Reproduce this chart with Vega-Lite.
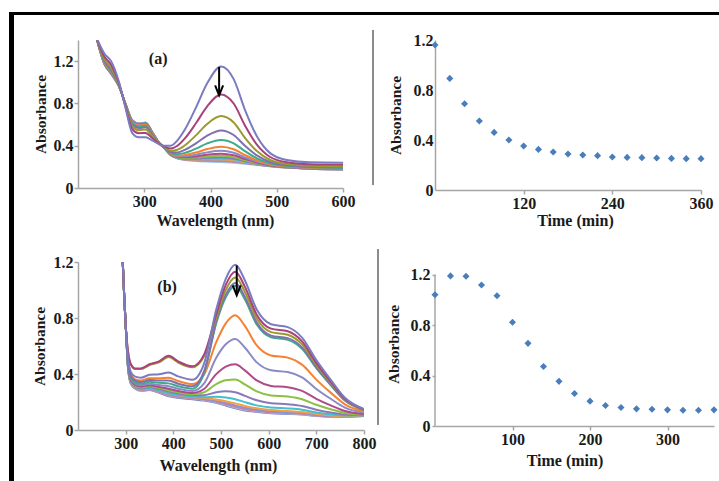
{
"$schema": "https://vega.github.io/schema/vega-lite/v6.json",
"background": "white",
"padding": {"left": 8, "top": 10, "right": 0, "bottom": 0},
"data": {"values": [{"z": 0}]},
"datasets": {
"specA": [
{"k":15,"w":228,"a":1.42},{"k":15,"w":240,"a":1.17},{"k":15,"w":250,"a":1.08},{"k":15,"w":262,"a":0.96},{"k":15,"w":272,"a":0.79},{"k":15,"w":282,"a":0.64},{"k":15,"w":292,"a":0.61},{"k":15,"w":302,"a":0.62},{"k":15,"w":312,"a":0.53},{"k":15,"w":322,"a":0.43},{"k":15,"w":330,"a":0.38},{"k":15,"w":340,"a":0.31},{"k":15,"w":350,"a":0.28},{"k":15,"w":362,"a":0.265},{"k":15,"w":378,"a":0.255},{"k":15,"w":395,"a":0.25},{"k":15,"w":416,"a":0.245},{"k":15,"w":435,"a":0.24},{"k":15,"w":452,"a":0.23},{"k":15,"w":470,"a":0.218},{"k":15,"w":490,"a":0.205},{"k":15,"w":515,"a":0.193},{"k":15,"w":550,"a":0.182},{"k":15,"w":600,"a":0.175},
{"k":14,"w":228,"a":1.42},{"k":14,"w":240,"a":1.171},{"k":14,"w":250,"a":1.081},{"k":14,"w":262,"a":0.96},{"k":14,"w":272,"a":0.79},{"k":14,"w":282,"a":0.639},{"k":14,"w":292,"a":0.609},{"k":14,"w":302,"a":0.618},{"k":14,"w":312,"a":0.529},{"k":14,"w":322,"a":0.43},{"k":14,"w":330,"a":0.38},{"k":14,"w":340,"a":0.311},{"k":14,"w":350,"a":0.282},{"k":14,"w":362,"a":0.268},{"k":14,"w":378,"a":0.261},{"k":14,"w":395,"a":0.258},{"k":14,"w":416,"a":0.255},{"k":14,"w":435,"a":0.249},{"k":14,"w":452,"a":0.236},{"k":14,"w":470,"a":0.221},{"k":14,"w":490,"a":0.206},{"k":14,"w":515,"a":0.194},{"k":14,"w":550,"a":0.183},{"k":14,"w":600,"a":0.176},
{"k":13,"w":228,"a":1.42},{"k":13,"w":240,"a":1.172},{"k":13,"w":250,"a":1.082},{"k":13,"w":262,"a":0.961},{"k":13,"w":272,"a":0.789},{"k":13,"w":282,"a":0.638},{"k":13,"w":292,"a":0.608},{"k":13,"w":302,"a":0.618},{"k":13,"w":312,"a":0.529},{"k":13,"w":322,"a":0.43},{"k":13,"w":330,"a":0.38},{"k":13,"w":340,"a":0.312},{"k":13,"w":350,"a":0.283},{"k":13,"w":362,"a":0.27},{"k":13,"w":378,"a":0.264},{"k":13,"w":395,"a":0.263},{"k":13,"w":416,"a":0.26},{"k":13,"w":435,"a":0.253},{"k":13,"w":452,"a":0.239},{"k":13,"w":470,"a":0.223},{"k":13,"w":490,"a":0.207},{"k":13,"w":515,"a":0.194},{"k":13,"w":550,"a":0.183},{"k":13,"w":600,"a":0.176},
{"k":12,"w":228,"a":1.42},{"k":12,"w":240,"a":1.173},{"k":12,"w":250,"a":1.083},{"k":12,"w":262,"a":0.961},{"k":12,"w":272,"a":0.789},{"k":12,"w":282,"a":0.637},{"k":12,"w":292,"a":0.606},{"k":12,"w":302,"a":0.616},{"k":12,"w":312,"a":0.528},{"k":12,"w":322,"a":0.43},{"k":12,"w":330,"a":0.381},{"k":12,"w":340,"a":0.313},{"k":12,"w":350,"a":0.285},{"k":12,"w":362,"a":0.273},{"k":12,"w":378,"a":0.269},{"k":12,"w":395,"a":0.271},{"k":12,"w":416,"a":0.27},{"k":12,"w":435,"a":0.262},{"k":12,"w":452,"a":0.244},{"k":12,"w":470,"a":0.226},{"k":12,"w":490,"a":0.209},{"k":12,"w":515,"a":0.195},{"k":12,"w":550,"a":0.184},{"k":12,"w":600,"a":0.177},
{"k":11,"w":228,"a":1.42},{"k":11,"w":240,"a":1.174},{"k":11,"w":250,"a":1.085},{"k":11,"w":262,"a":0.962},{"k":11,"w":272,"a":0.788},{"k":11,"w":282,"a":0.635},{"k":11,"w":292,"a":0.605},{"k":11,"w":302,"a":0.615},{"k":11,"w":312,"a":0.527},{"k":11,"w":322,"a":0.429},{"k":11,"w":330,"a":0.381},{"k":11,"w":340,"a":0.314},{"k":11,"w":350,"a":0.287},{"k":11,"w":362,"a":0.277},{"k":11,"w":378,"a":0.275},{"k":11,"w":395,"a":0.279},{"k":11,"w":416,"a":0.28},{"k":11,"w":435,"a":0.271},{"k":11,"w":452,"a":0.25},{"k":11,"w":470,"a":0.229},{"k":11,"w":490,"a":0.21},{"k":11,"w":515,"a":0.196},{"k":11,"w":550,"a":0.184},{"k":11,"w":600,"a":0.178},
{"k":10,"w":228,"a":1.42},{"k":10,"w":240,"a":1.175},{"k":10,"w":250,"a":1.086},{"k":10,"w":262,"a":0.962},{"k":10,"w":272,"a":0.788},{"k":10,"w":282,"a":0.634},{"k":10,"w":292,"a":0.604},{"k":10,"w":302,"a":0.613},{"k":10,"w":312,"a":0.526},{"k":10,"w":322,"a":0.429},{"k":10,"w":330,"a":0.381},{"k":10,"w":340,"a":0.315},{"k":10,"w":350,"a":0.289},{"k":10,"w":362,"a":0.28},{"k":10,"w":378,"a":0.28},{"k":10,"w":395,"a":0.287},{"k":10,"w":416,"a":0.29},{"k":10,"w":435,"a":0.28},{"k":10,"w":452,"a":0.256},{"k":10,"w":470,"a":0.232},{"k":10,"w":490,"a":0.211},{"k":10,"w":515,"a":0.197},{"k":10,"w":550,"a":0.185},{"k":10,"w":600,"a":0.178},
{"k":9,"w":228,"a":1.42},{"k":9,"w":240,"a":1.177},{"k":9,"w":250,"a":1.088},{"k":9,"w":262,"a":0.963},{"k":9,"w":272,"a":0.787},{"k":9,"w":282,"a":0.632},{"k":9,"w":292,"a":0.601},{"k":9,"w":302,"a":0.611},{"k":9,"w":312,"a":0.525},{"k":9,"w":322,"a":0.429},{"k":9,"w":330,"a":0.381},{"k":9,"w":340,"a":0.316},{"k":9,"w":350,"a":0.291},{"k":9,"w":362,"a":0.284},{"k":9,"w":378,"a":0.288},{"k":9,"w":395,"a":0.299},{"k":9,"w":416,"a":0.305},{"k":9,"w":435,"a":0.292},{"k":9,"w":452,"a":0.264},{"k":9,"w":470,"a":0.236},{"k":9,"w":490,"a":0.213},{"k":9,"w":515,"a":0.198},{"k":9,"w":550,"a":0.186},{"k":9,"w":600,"a":0.179},
{"k":8,"w":228,"a":1.42},{"k":8,"w":240,"a":1.179},{"k":8,"w":250,"a":1.091},{"k":8,"w":262,"a":0.964},{"k":8,"w":272,"a":0.786},{"k":8,"w":282,"a":0.629},{"k":8,"w":292,"a":0.599},{"k":8,"w":302,"a":0.608},{"k":8,"w":312,"a":0.523},{"k":8,"w":322,"a":0.429},{"k":8,"w":330,"a":0.382},{"k":8,"w":340,"a":0.318},{"k":8,"w":350,"a":0.295},{"k":8,"w":362,"a":0.291},{"k":8,"w":378,"a":0.299},{"k":8,"w":395,"a":0.315},{"k":8,"w":416,"a":0.325},{"k":8,"w":435,"a":0.31},{"k":8,"w":452,"a":0.275},{"k":8,"w":470,"a":0.242},{"k":8,"w":490,"a":0.216},{"k":8,"w":515,"a":0.199},{"k":8,"w":550,"a":0.187},{"k":8,"w":600,"a":0.181},
{"k":7,"w":228,"a":1.42},{"k":7,"w":240,"a":1.182},{"k":7,"w":250,"a":1.094},{"k":7,"w":262,"a":0.965},{"k":7,"w":272,"a":0.785},{"k":7,"w":282,"a":0.626},{"k":7,"w":292,"a":0.595},{"k":7,"w":302,"a":0.603},{"k":7,"w":312,"a":0.521},{"k":7,"w":322,"a":0.428},{"k":7,"w":330,"a":0.382},{"k":7,"w":340,"a":0.321},{"k":7,"w":350,"a":0.3},{"k":7,"w":362,"a":0.3},{"k":7,"w":378,"a":0.315},{"k":7,"w":395,"a":0.337},{"k":7,"w":416,"a":0.352},{"k":7,"w":435,"a":0.333},{"k":7,"w":452,"a":0.29},{"k":7,"w":470,"a":0.25},{"k":7,"w":490,"a":0.22},{"k":7,"w":515,"a":0.201},{"k":7,"w":550,"a":0.189},{"k":7,"w":600,"a":0.183},
{"k":6,"w":228,"a":1.42},{"k":6,"w":240,"a":1.186},{"k":6,"w":250,"a":1.099},{"k":6,"w":262,"a":0.966},{"k":6,"w":272,"a":0.784},{"k":6,"w":282,"a":0.621},{"k":6,"w":292,"a":0.589},{"k":6,"w":302,"a":0.598},{"k":6,"w":312,"a":0.517},{"k":6,"w":322,"a":0.428},{"k":6,"w":330,"a":0.383},{"k":6,"w":340,"a":0.324},{"k":6,"w":350,"a":0.307},{"k":6,"w":362,"a":0.312},{"k":6,"w":378,"a":0.336},{"k":6,"w":395,"a":0.368},{"k":6,"w":416,"a":0.39},{"k":6,"w":435,"a":0.366},{"k":6,"w":452,"a":0.312},{"k":6,"w":470,"a":0.262},{"k":6,"w":490,"a":0.225},{"k":6,"w":515,"a":0.205},{"k":6,"w":550,"a":0.192},{"k":6,"w":600,"a":0.185},
{"k":5,"w":228,"a":1.42},{"k":5,"w":240,"a":1.193},{"k":5,"w":250,"a":1.108},{"k":5,"w":262,"a":0.969},{"k":5,"w":272,"a":0.781},{"k":5,"w":282,"a":0.612},{"k":5,"w":292,"a":0.58},{"k":5,"w":302,"a":0.588},{"k":5,"w":312,"a":0.511},{"k":5,"w":322,"a":0.427},{"k":5,"w":330,"a":0.385},{"k":5,"w":340,"a":0.331},{"k":5,"w":350,"a":0.319},{"k":5,"w":362,"a":0.333},{"k":5,"w":378,"a":0.372},{"k":5,"w":395,"a":0.422},{"k":5,"w":416,"a":0.455},{"k":5,"w":435,"a":0.423},{"k":5,"w":452,"a":0.348},{"k":5,"w":470,"a":0.281},{"k":5,"w":490,"a":0.234},{"k":5,"w":515,"a":0.21},{"k":5,"w":550,"a":0.196},{"k":5,"w":600,"a":0.19},
{"k":4,"w":228,"a":1.42},{"k":4,"w":240,"a":1.203},{"k":4,"w":250,"a":1.12},{"k":4,"w":262,"a":0.973},{"k":4,"w":272,"a":0.777},{"k":4,"w":282,"a":0.6},{"k":4,"w":292,"a":0.567},{"k":4,"w":302,"a":0.574},{"k":4,"w":312,"a":0.504},{"k":4,"w":322,"a":0.425},{"k":4,"w":330,"a":0.387},{"k":4,"w":340,"a":0.34},{"k":4,"w":350,"a":0.336},{"k":4,"w":362,"a":0.363},{"k":4,"w":378,"a":0.422},{"k":4,"w":395,"a":0.495},{"k":4,"w":416,"a":0.545},{"k":4,"w":435,"a":0.501},{"k":4,"w":452,"a":0.399},{"k":4,"w":470,"a":0.308},{"k":4,"w":490,"a":0.246},{"k":4,"w":515,"a":0.217},{"k":4,"w":550,"a":0.202},{"k":4,"w":600,"a":0.197},
{"k":3,"w":228,"a":1.42},{"k":3,"w":240,"a":1.218},{"k":3,"w":250,"a":1.138},{"k":3,"w":262,"a":0.979},{"k":3,"w":272,"a":0.771},{"k":3,"w":282,"a":0.582},{"k":3,"w":292,"a":0.547},{"k":3,"w":302,"a":0.553},{"k":3,"w":312,"a":0.492},{"k":3,"w":322,"a":0.423},{"k":3,"w":330,"a":0.39},{"k":3,"w":340,"a":0.353},{"k":3,"w":350,"a":0.362},{"k":3,"w":362,"a":0.407},{"k":3,"w":378,"a":0.498},{"k":3,"w":395,"a":0.606},{"k":3,"w":416,"a":0.68},{"k":3,"w":435,"a":0.62},{"k":3,"w":452,"a":0.475},{"k":3,"w":470,"a":0.349},{"k":3,"w":490,"a":0.265},{"k":3,"w":515,"a":0.228},{"k":3,"w":550,"a":0.211},{"k":3,"w":600,"a":0.206},
{"k":2,"w":228,"a":1.42},{"k":2,"w":240,"a":1.241},{"k":2,"w":250,"a":1.165},{"k":2,"w":262,"a":0.988},{"k":2,"w":272,"a":0.762},{"k":2,"w":282,"a":0.555},{"k":2,"w":292,"a":0.518},{"k":2,"w":302,"a":0.521},{"k":2,"w":312,"a":0.473},{"k":2,"w":322,"a":0.419},{"k":2,"w":330,"a":0.394},{"k":2,"w":340,"a":0.374},{"k":2,"w":350,"a":0.4},{"k":2,"w":362,"a":0.474},{"k":2,"w":378,"a":0.612},{"k":2,"w":395,"a":0.773},{"k":2,"w":416,"a":0.885},{"k":2,"w":435,"a":0.799},{"k":2,"w":452,"a":0.591},{"k":2,"w":470,"a":0.41},{"k":2,"w":490,"a":0.293},{"k":2,"w":515,"a":0.244},{"k":2,"w":550,"a":0.225},{"k":2,"w":600,"a":0.221},
{"k":1,"w":228,"a":1.42},{"k":1,"w":240,"a":1.27},{"k":1,"w":250,"a":1.2},{"k":1,"w":262,"a":1.0},{"k":1,"w":272,"a":0.75},{"k":1,"w":282,"a":0.52},{"k":1,"w":292,"a":0.48},{"k":1,"w":302,"a":0.48},{"k":1,"w":312,"a":0.45},{"k":1,"w":322,"a":0.415},{"k":1,"w":330,"a":0.4},{"k":1,"w":340,"a":0.4},{"k":1,"w":350,"a":0.45},{"k":1,"w":362,"a":0.56},{"k":1,"w":378,"a":0.76},{"k":1,"w":395,"a":0.99},{"k":1,"w":416,"a":1.15},{"k":1,"w":435,"a":1.03},{"k":1,"w":452,"a":0.74},{"k":1,"w":470,"a":0.49},{"k":1,"w":490,"a":0.33},{"k":1,"w":515,"a":0.265},{"k":1,"w":550,"a":0.243},{"k":1,"w":600,"a":0.24}
],
"specB": [
{"k":16,"w":292,"a":1.35},{"k":16,"w":297,"a":0.95},{"k":16,"w":301,"a":0.69},{"k":16,"w":305,"a":0.44},{"k":16,"w":311,"a":0.33},{"k":16,"w":320,"a":0.295},{"k":16,"w":332,"a":0.28},{"k":16,"w":350,"a":0.285},{"k":16,"w":370,"a":0.265},{"k":16,"w":390,"a":0.24},{"k":16,"w":410,"a":0.23},{"k":16,"w":440,"a":0.22},{"k":16,"w":465,"a":0.21},{"k":16,"w":490,"a":0.195},{"k":16,"w":510,"a":0.175},{"k":16,"w":530,"a":0.155},{"k":16,"w":550,"a":0.14},{"k":16,"w":575,"a":0.13},{"k":16,"w":605,"a":0.12},{"k":16,"w":640,"a":0.115},{"k":16,"w":670,"a":0.11},{"k":16,"w":700,"a":0.1},{"k":16,"w":730,"a":0.095},{"k":16,"w":760,"a":0.095},{"k":16,"w":800,"a":0.1},
{"k":15,"w":292,"a":1.35},{"k":15,"w":297,"a":0.95},{"k":15,"w":301,"a":0.69},{"k":15,"w":305,"a":0.442},{"k":15,"w":311,"a":0.333},{"k":15,"w":320,"a":0.298},{"k":15,"w":332,"a":0.283},{"k":15,"w":350,"a":0.289},{"k":15,"w":370,"a":0.27},{"k":15,"w":390,"a":0.246},{"k":15,"w":410,"a":0.235},{"k":15,"w":440,"a":0.225},{"k":15,"w":465,"a":0.214},{"k":15,"w":490,"a":0.198},{"k":15,"w":510,"a":0.18},{"k":15,"w":530,"a":0.16},{"k":15,"w":550,"a":0.145},{"k":15,"w":575,"a":0.134},{"k":15,"w":605,"a":0.123},{"k":15,"w":640,"a":0.118},{"k":15,"w":670,"a":0.113},{"k":15,"w":700,"a":0.102},{"k":15,"w":730,"a":0.096},{"k":15,"w":760,"a":0.096},{"k":15,"w":800,"a":0.1},
{"k":14,"w":292,"a":1.35},{"k":14,"w":297,"a":0.95},{"k":14,"w":301,"a":0.69},{"k":14,"w":305,"a":0.444},{"k":14,"w":311,"a":0.334},{"k":14,"w":320,"a":0.299},{"k":14,"w":332,"a":0.285},{"k":14,"w":350,"a":0.291},{"k":14,"w":370,"a":0.272},{"k":14,"w":390,"a":0.249},{"k":14,"w":410,"a":0.238},{"k":14,"w":440,"a":0.227},{"k":14,"w":465,"a":0.217},{"k":14,"w":490,"a":0.202},{"k":14,"w":510,"a":0.184},{"k":14,"w":530,"a":0.165},{"k":14,"w":550,"a":0.149},{"k":14,"w":575,"a":0.137},{"k":14,"w":605,"a":0.126},{"k":14,"w":640,"a":0.121},{"k":14,"w":670,"a":0.116},{"k":14,"w":700,"a":0.104},{"k":14,"w":730,"a":0.098},{"k":14,"w":760,"a":0.096},{"k":14,"w":800,"a":0.1},
{"k":13,"w":292,"a":1.35},{"k":13,"w":297,"a":0.95},{"k":13,"w":301,"a":0.69},{"k":13,"w":305,"a":0.446},{"k":13,"w":311,"a":0.337},{"k":13,"w":320,"a":0.302},{"k":13,"w":332,"a":0.288},{"k":13,"w":350,"a":0.294},{"k":13,"w":370,"a":0.276},{"k":13,"w":390,"a":0.255},{"k":13,"w":410,"a":0.243},{"k":13,"w":440,"a":0.232},{"k":13,"w":465,"a":0.222},{"k":13,"w":490,"a":0.208},{"k":13,"w":510,"a":0.193},{"k":13,"w":530,"a":0.175},{"k":13,"w":550,"a":0.159},{"k":13,"w":575,"a":0.145},{"k":13,"w":605,"a":0.133},{"k":13,"w":640,"a":0.127},{"k":13,"w":670,"a":0.121},{"k":13,"w":700,"a":0.108},{"k":13,"w":730,"a":0.1},{"k":13,"w":760,"a":0.098},{"k":13,"w":800,"a":0.101},
{"k":12,"w":292,"a":1.35},{"k":12,"w":297,"a":0.95},{"k":12,"w":301,"a":0.69},{"k":12,"w":305,"a":0.448},{"k":12,"w":311,"a":0.34},{"k":12,"w":320,"a":0.305},{"k":12,"w":332,"a":0.291},{"k":12,"w":350,"a":0.298},{"k":12,"w":370,"a":0.281},{"k":12,"w":390,"a":0.26},{"k":12,"w":410,"a":0.248},{"k":12,"w":440,"a":0.236},{"k":12,"w":465,"a":0.228},{"k":12,"w":490,"a":0.218},{"k":12,"w":510,"a":0.206},{"k":12,"w":530,"a":0.19},{"k":12,"w":550,"a":0.172},{"k":12,"w":575,"a":0.155},{"k":12,"w":605,"a":0.142},{"k":12,"w":640,"a":0.136},{"k":12,"w":670,"a":0.129},{"k":12,"w":700,"a":0.114},{"k":12,"w":730,"a":0.104},{"k":12,"w":760,"a":0.1},{"k":12,"w":800,"a":0.102},
{"k":11,"w":292,"a":1.35},{"k":11,"w":297,"a":0.95},{"k":11,"w":301,"a":0.69},{"k":11,"w":305,"a":0.45},{"k":11,"w":311,"a":0.341},{"k":11,"w":320,"a":0.307},{"k":11,"w":332,"a":0.293},{"k":11,"w":350,"a":0.3},{"k":11,"w":370,"a":0.283},{"k":11,"w":390,"a":0.263},{"k":11,"w":410,"a":0.251},{"k":11,"w":440,"a":0.239},{"k":11,"w":465,"a":0.234},{"k":11,"w":490,"a":0.237},{"k":11,"w":510,"a":0.232},{"k":11,"w":530,"a":0.22},{"k":11,"w":550,"a":0.199},{"k":11,"w":575,"a":0.176},{"k":11,"w":605,"a":0.16},{"k":11,"w":640,"a":0.154},{"k":11,"w":670,"a":0.145},{"k":11,"w":700,"a":0.125},{"k":11,"w":730,"a":0.112},{"k":11,"w":760,"a":0.104},{"k":11,"w":800,"a":0.103},
{"k":10,"w":292,"a":1.35},{"k":10,"w":297,"a":0.95},{"k":10,"w":301,"a":0.69},{"k":10,"w":305,"a":0.454},{"k":10,"w":311,"a":0.347},{"k":10,"w":320,"a":0.312},{"k":10,"w":332,"a":0.299},{"k":10,"w":350,"a":0.307},{"k":10,"w":370,"a":0.292},{"k":10,"w":390,"a":0.275},{"k":10,"w":410,"a":0.261},{"k":10,"w":440,"a":0.248},{"k":10,"w":465,"a":0.249},{"k":10,"w":490,"a":0.269},{"k":10,"w":510,"a":0.276},{"k":10,"w":530,"a":0.27},{"k":10,"w":550,"a":0.244},{"k":10,"w":575,"a":0.212},{"k":10,"w":605,"a":0.191},{"k":10,"w":640,"a":0.184},{"k":10,"w":670,"a":0.172},{"k":10,"w":700,"a":0.145},{"k":10,"w":730,"a":0.125},{"k":10,"w":760,"a":0.11},{"k":10,"w":800,"a":0.106},
{"k":9,"w":292,"a":1.35},{"k":9,"w":297,"a":0.95},{"k":9,"w":301,"a":0.69},{"k":9,"w":305,"a":0.458},{"k":9,"w":311,"a":0.351},{"k":9,"w":320,"a":0.317},{"k":9,"w":332,"a":0.304},{"k":9,"w":350,"a":0.313},{"k":9,"w":370,"a":0.299},{"k":9,"w":390,"a":0.284},{"k":9,"w":410,"a":0.269},{"k":9,"w":440,"a":0.255},{"k":9,"w":465,"a":0.27},{"k":9,"w":490,"a":0.328},{"k":9,"w":510,"a":0.356},{"k":9,"w":530,"a":0.36},{"k":9,"w":550,"a":0.326},{"k":9,"w":575,"a":0.276},{"k":9,"w":605,"a":0.247},{"k":9,"w":640,"a":0.239},{"k":9,"w":670,"a":0.22},{"k":9,"w":700,"a":0.18},{"k":9,"w":730,"a":0.148},{"k":9,"w":760,"a":0.122},{"k":9,"w":800,"a":0.11},
{"k":8,"w":292,"a":1.35},{"k":8,"w":297,"a":0.95},{"k":8,"w":301,"a":0.69},{"k":8,"w":305,"a":0.463},{"k":8,"w":311,"a":0.357},{"k":8,"w":320,"a":0.323},{"k":8,"w":332,"a":0.31},{"k":8,"w":350,"a":0.32},{"k":8,"w":370,"a":0.308},{"k":8,"w":390,"a":0.295},{"k":8,"w":410,"a":0.279},{"k":8,"w":440,"a":0.265},{"k":8,"w":465,"a":0.295},{"k":8,"w":490,"a":0.399},{"k":8,"w":510,"a":0.453},{"k":8,"w":530,"a":0.47},{"k":8,"w":550,"a":0.426},{"k":8,"w":575,"a":0.354},{"k":8,"w":605,"a":0.315},{"k":8,"w":640,"a":0.305},{"k":8,"w":670,"a":0.279},{"k":8,"w":700,"a":0.223},{"k":8,"w":730,"a":0.176},{"k":8,"w":760,"a":0.136},{"k":8,"w":800,"a":0.115},
{"k":7,"w":292,"a":1.35},{"k":7,"w":297,"a":0.95},{"k":7,"w":301,"a":0.69},{"k":7,"w":305,"a":0.47},{"k":7,"w":311,"a":0.365},{"k":7,"w":320,"a":0.331},{"k":7,"w":332,"a":0.32},{"k":7,"w":350,"a":0.331},{"k":7,"w":370,"a":0.321},{"k":7,"w":390,"a":0.313},{"k":7,"w":410,"a":0.295},{"k":7,"w":440,"a":0.279},{"k":7,"w":465,"a":0.335},{"k":7,"w":490,"a":0.516},{"k":7,"w":510,"a":0.612},{"k":7,"w":530,"a":0.65},{"k":7,"w":550,"a":0.589},{"k":7,"w":575,"a":0.483},{"k":7,"w":605,"a":0.427},{"k":7,"w":640,"a":0.414},{"k":7,"w":670,"a":0.376},{"k":7,"w":700,"a":0.293},{"k":7,"w":730,"a":0.223},{"k":7,"w":760,"a":0.16},{"k":7,"w":800,"a":0.124},
{"k":6,"w":292,"a":1.35},{"k":6,"w":297,"a":0.95},{"k":6,"w":301,"a":0.69},{"k":6,"w":305,"a":0.495},{"k":6,"w":311,"a":0.394},{"k":6,"w":320,"a":0.362},{"k":6,"w":332,"a":0.354},{"k":6,"w":350,"a":0.37},{"k":6,"w":370,"a":0.369},{"k":6,"w":390,"a":0.373},{"k":6,"w":410,"a":0.35},{"k":6,"w":440,"a":0.328},{"k":6,"w":465,"a":0.399},{"k":6,"w":490,"a":0.627},{"k":6,"w":510,"a":0.762},{"k":6,"w":530,"a":0.82},{"k":6,"w":550,"a":0.744},{"k":6,"w":575,"a":0.604},{"k":6,"w":605,"a":0.532},{"k":6,"w":640,"a":0.517},{"k":6,"w":670,"a":0.467},{"k":6,"w":700,"a":0.36},{"k":6,"w":730,"a":0.267},{"k":6,"w":760,"a":0.183},{"k":6,"w":800,"a":0.132},
{"k":5,"w":292,"a":1.35},{"k":5,"w":297,"a":0.95},{"k":5,"w":301,"a":0.69},{"k":5,"w":305,"a":0.478},{"k":5,"w":311,"a":0.375},{"k":5,"w":320,"a":0.341},{"k":5,"w":332,"a":0.331},{"k":5,"w":350,"a":0.344},{"k":5,"w":370,"a":0.337},{"k":5,"w":390,"a":0.333},{"k":5,"w":410,"a":0.313},{"k":5,"w":440,"a":0.295},{"k":5,"w":465,"a":0.41},{"k":5,"w":490,"a":0.763},{"k":5,"w":510,"a":0.948},{"k":5,"w":530,"a":1.03},{"k":5,"w":550,"a":0.934},{"k":5,"w":575,"a":0.753},{"k":5,"w":605,"a":0.662},{"k":5,"w":640,"a":0.644},{"k":5,"w":670,"a":0.58},{"k":5,"w":700,"a":0.442},{"k":5,"w":730,"a":0.321},{"k":5,"w":760,"a":0.21},{"k":5,"w":800,"a":0.143},
{"k":4,"w":292,"a":1.35},{"k":4,"w":297,"a":0.95},{"k":4,"w":301,"a":0.69},{"k":4,"w":305,"a":0.487},{"k":4,"w":311,"a":0.385},{"k":4,"w":320,"a":0.352},{"k":4,"w":332,"a":0.342},{"k":4,"w":350,"a":0.357},{"k":4,"w":370,"a":0.353},{"k":4,"w":390,"a":0.353},{"k":4,"w":410,"a":0.331},{"k":4,"w":440,"a":0.312},{"k":4,"w":465,"a":0.425},{"k":4,"w":490,"a":0.776},{"k":4,"w":510,"a":0.965},{"k":4,"w":530,"a":1.05},{"k":4,"w":550,"a":0.952},{"k":4,"w":575,"a":0.767},{"k":4,"w":605,"a":0.674},{"k":4,"w":640,"a":0.656},{"k":4,"w":670,"a":0.59},{"k":4,"w":700,"a":0.449},{"k":4,"w":730,"a":0.326},{"k":4,"w":760,"a":0.213},{"k":4,"w":800,"a":0.144},
{"k":3,"w":292,"a":1.35},{"k":3,"w":297,"a":0.95},{"k":3,"w":301,"a":0.7},{"k":3,"w":305,"a":0.556},{"k":3,"w":311,"a":0.466},{"k":3,"w":320,"a":0.436},{"k":3,"w":332,"a":0.435},{"k":3,"w":350,"a":0.464},{"k":3,"w":370,"a":0.483},{"k":3,"w":390,"a":0.521},{"k":3,"w":410,"a":0.482},{"k":3,"w":440,"a":0.448},{"k":3,"w":465,"a":0.53},{"k":3,"w":490,"a":0.801},{"k":3,"w":510,"a":1.0},{"k":3,"w":530,"a":1.09},{"k":3,"w":550,"a":0.988},{"k":3,"w":575,"a":0.796},{"k":3,"w":605,"a":0.699},{"k":3,"w":640,"a":0.68},{"k":3,"w":670,"a":0.612},{"k":3,"w":700,"a":0.465},{"k":3,"w":730,"a":0.337},{"k":3,"w":760,"a":0.218},{"k":3,"w":800,"a":0.146},
{"k":2,"w":292,"a":1.35},{"k":2,"w":297,"a":0.95},{"k":2,"w":301,"a":0.7},{"k":2,"w":305,"a":0.56},{"k":2,"w":311,"a":0.47},{"k":2,"w":320,"a":0.44},{"k":2,"w":332,"a":0.44},{"k":2,"w":350,"a":0.47},{"k":2,"w":370,"a":0.49},{"k":2,"w":390,"a":0.53},{"k":2,"w":410,"a":0.49},{"k":2,"w":440,"a":0.455},{"k":2,"w":465,"a":0.542},{"k":2,"w":490,"a":0.827},{"k":2,"w":510,"a":1.036},{"k":2,"w":530,"a":1.13},{"k":2,"w":550,"a":1.024},{"k":2,"w":575,"a":0.824},{"k":2,"w":605,"a":0.724},{"k":2,"w":640,"a":0.705},{"k":2,"w":670,"a":0.633},{"k":2,"w":700,"a":0.48},{"k":2,"w":730,"a":0.347},{"k":2,"w":760,"a":0.223},{"k":2,"w":800,"a":0.148},
{"k":1,"w":292,"a":1.35},{"k":1,"w":297,"a":0.95},{"k":1,"w":301,"a":0.69},{"k":1,"w":305,"a":0.511},{"k":1,"w":311,"a":0.413},{"k":1,"w":320,"a":0.381},{"k":1,"w":332,"a":0.374},{"k":1,"w":350,"a":0.394},{"k":1,"w":370,"a":0.398},{"k":1,"w":390,"a":0.411},{"k":1,"w":410,"a":0.383},{"k":1,"w":440,"a":0.359},{"k":1,"w":465,"a":0.48},{"k":1,"w":490,"a":0.86},{"k":1,"w":510,"a":1.08},{"k":1,"w":530,"a":1.18},{"k":1,"w":550,"a":1.07},{"k":1,"w":575,"a":0.86},{"k":1,"w":605,"a":0.755},{"k":1,"w":640,"a":0.735},{"k":1,"w":670,"a":0.66},{"k":1,"w":700,"a":0.5},{"k":1,"w":730,"a":0.36},{"k":1,"w":760,"a":0.23},{"k":1,"w":800,"a":0.15}
],
"timeA": [
{"t":0,"a":1.16},{"t":20,"a":0.893},{"t":40,"a":0.69},{"t":60,"a":0.552},{"t":80,"a":0.461},{"t":100,"a":0.4},{"t":120,"a":0.352},{"t":140,"a":0.325},{"t":160,"a":0.304},{"t":180,"a":0.288},{"t":200,"a":0.28},{"t":220,"a":0.275},{"t":240,"a":0.264},{"t":260,"a":0.261},{"t":280,"a":0.259},{"t":300,"a":0.256},{"t":320,"a":0.253},{"t":340,"a":0.251},{"t":360,"a":0.251}
],
"timeB": [
{"t":0,"a":1.04},{"t":20,"a":1.19},{"t":40,"a":1.187},{"t":60,"a":1.118},{"t":80,"a":1.032},{"t":100,"a":0.822},{"t":120,"a":0.655},{"t":140,"a":0.471},{"t":160,"a":0.354},{"t":180,"a":0.258},{"t":200,"a":0.197},{"t":220,"a":0.162},{"t":240,"a":0.146},{"t":260,"a":0.136},{"t":280,"a":0.133},{"t":300,"a":0.128},{"t":320,"a":0.125},{"t":340,"a":0.125},{"t":360,"a":0.128}
]
},
"columns": 6,
"spacing": 0,
"bounds": "flush",
"align": "each",
"concat": [
{"width":5,"height":3,"view":{"fill":"#000000","stroke":null},"mark":{"type":"point","opacity":0},"encoding":{}},
{"width":64,"height":3,"view":{"fill":"#000000","stroke":null},"mark":{"type":"point","opacity":0},"encoding":{}},
{"width":286,"height":3,"view":{"fill":"#000000","stroke":null},"mark":{"type":"point","opacity":0},"encoding":{}},
{"width":71,"height":3,"view":{"fill":"#000000","stroke":null},"mark":{"type":"point","opacity":0},"encoding":{}},
{"width":279,"height":3,"view":{"fill":"#000000","stroke":null},"mark":{"type":"point","opacity":0},"encoding":{}},
{"width":6,"height":3,"view":{"fill":"#000000","stroke":null},"mark":{"type":"point","opacity":0},"encoding":{}},

{"width":5,"height":25,"view":{"fill":"#000000","stroke":null},"mark":{"type":"point","opacity":0},"encoding":{}},
{"width":1,"height":1,"mark":{"type":"point","opacity":0},"encoding":{}},
{"width":1,"height":1,"mark":{"type":"point","opacity":0},"encoding":{}},
{"width":1,"height":1,"mark":{"type":"point","opacity":0},"encoding":{}},
{"width":1,"height":1,"mark":{"type":"point","opacity":0},"encoding":{}},
{"width":1,"height":1,"mark":{"type":"point","opacity":0},"encoding":{}},

{"width":5,"height":150,"view":{"fill":"#000000","stroke":null},"mark":{"type":"point","opacity":0},"encoding":{}},
{"width":1,"height":1,"mark":{"type":"point","opacity":0},"encoding":{}},
{
"width":265,"height":148,
"data":{"name":"specA"},
"layer":[
{"mark":{"type":"line","interpolate":"monotone","clip":true},
"encoding":{
"x":{"field":"w","type":"quantitative","scale":{"domain":[200,600],"nice":false,"zero":false},"axis":{"values":[300,400,500,600],"title":"Wavelength (nm)","titlePadding":3,"titleX":137,"titleAlign":"center"}},
"y":{"field":"a","type":"quantitative","scale":{"domain":[0,1.4],"nice":false},"axis":{"values":[0,0.4,0.8,1.2],"format":".1~f","title":"Absorbance","titlePadding":5}},
"color":{"field":"k","type":"nominal","scale":{"domain":[1,2,3,4,5,6,7,8,9,10,11,12,13,14,15],"range":["#7B7BC0","#A8427A","#9A9A2E","#8070B0","#3DAA8C","#F58233","#8A8AC8","#B04A8A","#8CC040","#8A78B8","#40C0D0","#F5A040","#9090D0","#D080A0","#9DC3E6"]},"legend":null},
"strokeWidth":{"field":"k","type":"nominal","scale":{"domain":[1,2,3,4,5,6,7,8,9,10,11,12,13,14,15],"range":[2,2,2,2,2,2,2,2,2,2,2,2,2,2,3.5]},"legend":null}
}},
{"data":{"values":[{"w":413,"a":1.145,"a2":0.885}]},"mark":{"type":"rule","color":"#000000","strokeWidth":2},"encoding":{"x":{"field":"w","type":"quantitative"},"y":{"field":"a","type":"quantitative"},"y2":{"field":"a2"}}},
{"data":{"values":[{"w":413,"a":0.877}]},"mark":{"type":"point","shape":"M-1,-2.5L0,0L1,-2.5","size":64,"filled":false,"color":"#000000","strokeWidth":2,"opacity":1},"encoding":{"x":{"field":"w","type":"quantitative"},"y":{"field":"a","type":"quantitative"}}},
{"data":{"values":[{"w":321,"a":1.216,"t":"(a)"}]},"mark":{"type":"text","font":"Liberation Serif","fontWeight":"bold","fontSize":16,"color":"#1a1a1a","baseline":"middle"},"encoding":{"x":{"field":"w","type":"quantitative"},"y":{"field":"a","type":"quantitative"},"text":{"field":"t"}}}
]
},
{"width":71,"height":150,"data":{"values":[{"x":0.127,"y1":0.033,"y2":1.067}]},"mark":{"type":"rule","color":"#8c8c8c","strokeWidth":2,"clip":false},"encoding":{"x":{"field":"x","type":"quantitative","scale":{"domain":[0,1]},"axis":null},"y":{"field":"y1","type":"quantitative","scale":{"domain":[0,1]},"axis":null},"y2":{"field":"y2"}}},
{
"width":266,"height":150,
"data":{"name":"timeA"},
"mark":{"type":"point","shape":"diamond","filled":true,"size":50,"color":"#4A7EBB","opacity":1},
"encoding":{
"x":{"field":"t","type":"quantitative","scale":{"domain":[0,360],"nice":false},"axis":{"values":[120,240,360],"title":"Time (min)","titlePadding":1,"titleX":140,"titleAlign":"center"}},
"y":{"field":"a","type":"quantitative","scale":{"domain":[0,1.2],"nice":false},"axis":{"values":[0,0.4,0.8,1.2],"format":".1~f","title":"Absorbance","titlePadding":10,"ticks":false,"labelPadding":2}}
}
},
{"width":1,"height":1,"mark":{"type":"point","opacity":0},"encoding":{}},

{"width":5,"height":72,"view":{"fill":"#000000","stroke":null},"mark":{"type":"point","opacity":0},"encoding":{}},
{"width":1,"height":1,"mark":{"type":"point","opacity":0},"encoding":{}},
{"width":1,"height":1,"mark":{"type":"point","opacity":0},"encoding":{}},
{"width":1,"height":1,"mark":{"type":"point","opacity":0},"encoding":{}},
{"width":1,"height":1,"mark":{"type":"point","opacity":0},"encoding":{}},
{"width":1,"height":1,"mark":{"type":"point","opacity":0},"encoding":{}},

{"width":5,"height":168,"view":{"fill":"#000000","stroke":null},"mark":{"type":"point","opacity":0},"encoding":{}},
{"width":1,"height":1,"mark":{"type":"point","opacity":0},"encoding":{}},
{
"width":286,"height":168,
"data":{"name":"specB"},
"layer":[
{"mark":{"type":"line","interpolate":"monotone","clip":true},
"encoding":{
"x":{"field":"w","type":"quantitative","scale":{"domain":[200,800],"nice":false,"zero":false},"axis":{"values":[300,400,500,600,700,800],"title":"Wavelength (nm)","titlePadding":6,"titleX":140,"titleAlign":"center"}},
"y":{"field":"a","type":"quantitative","scale":{"domain":[0,1.2],"nice":false},"axis":{"values":[0,0.4,0.8,1.2],"format":".1~f","title":"Absorbance","titlePadding":6}},
"color":{"field":"k","type":"nominal","scale":{"domain":[1,2,3,4,5,6,7,8,9,10,11,12,13,14,15,16],"range":["#948A2A","#8E5A9A","#7F86BF","#2E8B7A","#4BAC8C","#F47C20","#7B7BB8","#A3457D","#9ACD32","#8573B0","#3CC8D0","#F59B3A","#A8A8DC","#D48CB0","#B5D58A","#9DC3E6"]},"legend":null},
"strokeWidth":{"field":"k","type":"nominal","scale":{"domain":[1,2,3,4,5,6,7,8,9,10,11,12,13,14,15,16],"range":[2.4,2,2,2,2,2,2,2,2,2,2,2,2,2,2,3.5]},"legend":null}
}},
{"data":{"values":[{"w":533,"a":1.176,"a2":0.97}]},"mark":{"type":"rule","color":"#000000","strokeWidth":2},"encoding":{"x":{"field":"w","type":"quantitative"},"y":{"field":"a","type":"quantitative"},"y2":{"field":"a2"}}},
{"data":{"values":[{"w":533,"a":0.962}]},"mark":{"type":"point","shape":"M-1,-2.5L0,0L1,-2.5","size":64,"filled":false,"color":"#000000","strokeWidth":2,"opacity":1},"encoding":{"x":{"field":"w","type":"quantitative"},"y":{"field":"a","type":"quantitative"}}},
{"data":{"values":[{"w":387,"a":1.021,"t":"(b)"}]},"mark":{"type":"text","font":"Liberation Serif","fontWeight":"bold","fontSize":16,"color":"#1a1a1a","baseline":"middle"},"encoding":{"x":{"field":"w","type":"quantitative"},"y":{"field":"a","type":"quantitative"},"text":{"field":"t"}}}
]
},
{"width":71,"height":168,"data":{"values":[{"x":0.197,"y1":0.03,"y2":1.077}]},"mark":{"type":"rule","color":"#8c8c8c","strokeWidth":2,"clip":false},"encoding":{"x":{"field":"x","type":"quantitative","scale":{"domain":[0,1]},"axis":null},"y":{"field":"y1","type":"quantitative","scale":{"domain":[0,1]},"axis":null},"y2":{"field":"y2"}}},
{
"width":279,"height":164,
"data":{"name":"timeB"},
"layer":[
{"data":{"values":[{"t":0,"a":0,"a2":1.2}]},"mark":{"type":"rule","color":"#a6a6a6","strokeWidth":1.5},"encoding":{"x":{"field":"t","type":"quantitative"},"y":{"field":"a","type":"quantitative"},"y2":{"field":"a2"}}},
{"mark":{"type":"point","shape":"diamond","filled":true,"size":50,"color":"#4A7EBB","opacity":1},
"encoding":{
"x":{"field":"t","type":"quantitative","scale":{"domain":[0,360],"nice":false},"axis":{"values":[100,200,300],"title":"Time (min)","titlePadding":5,"titleX":129.5,"titleAlign":"center"}},
"y":{"field":"a","type":"quantitative","scale":{"domain":[0,1.3],"nice":false},"axis":{"values":[0,0.4,0.8,1.2],"format":".1~f","title":"Absorbance","titlePadding":9,"domain":false,"tickSize":3,"labelPadding":2}}
}}
]
},
{"width":1,"height":1,"mark":{"type":"point","opacity":0},"encoding":{}},

{"width":5,"height":53,"view":{"fill":"#000000","stroke":null},"mark":{"type":"point","opacity":0},"encoding":{}},
{"width":1,"height":1,"mark":{"type":"point","opacity":0},"encoding":{}},
{"width":1,"height":1,"mark":{"type":"point","opacity":0},"encoding":{}},
{"width":1,"height":1,"mark":{"type":"point","opacity":0},"encoding":{}},
{"width":1,"height":1,"mark":{"type":"point","opacity":0},"encoding":{}},
{"width":1,"height":1,"mark":{"type":"point","opacity":0},"encoding":{}}
],
"config": {
"view": {"stroke": null},
"font": "Liberation Serif",
"axis": {"grid": false, "labelFont": "Liberation Serif", "labelFontWeight": "bold", "labelFontSize": 16, "labelColor": "#1a1a1a", "titleFont": "Liberation Serif", "titleFontWeight": "bold", "titleColor": "#1a1a1a", "domainColor": "#a6a6a6", "domainWidth": 1.5, "tickColor": "#a6a6a6", "tickWidth": 1.5, "tickSize": 4, "labelPadding": 1, "labelFlush": false, "labelOverlap": false},
"axisX": {"titleFontSize": 16},
"axisY": {"titleFontSize": 15.5}
}
}
